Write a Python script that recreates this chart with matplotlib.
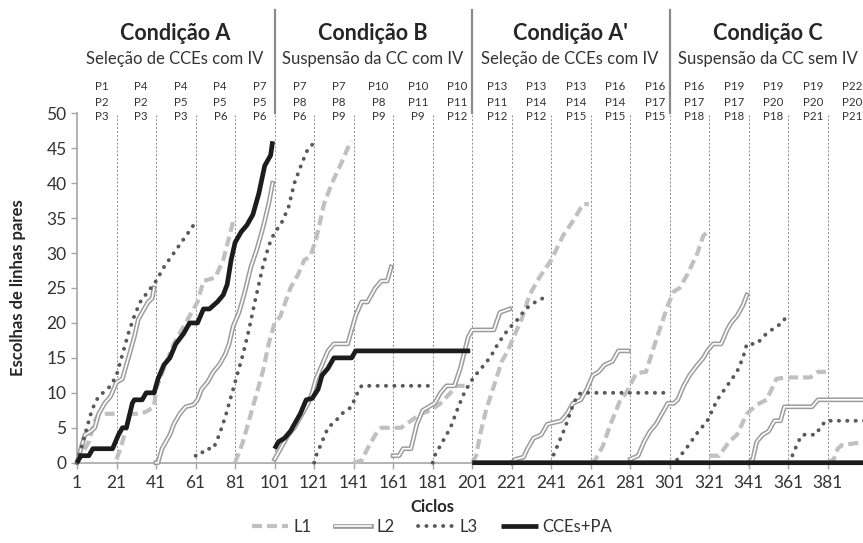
import numpy as np
import matplotlib
matplotlib.use("Agg")
import matplotlib.pyplot as plt
import matplotlib.transforms as mtransforms
from matplotlib.lines import Line2D

plt.rcParams['font.family'] = ['Lato', 'DejaVu Sans']

# === DATA (cycle, cumulative choices) ===
# L1 = top participant row
l1_p1 = [(1, 0), (3, 1), (5, 2), (7, 3), (8, 4), (9, 5), (10, 6), (12, 7), (20, 7)]
l1_p4 = [(21, 0.5), (23, 2), (26, 5), (28, 7), (33, 7), (36, 7.3), (40, 8), (41, 10.5),
         (45, 13.5), (50, 17), (55, 19.5), (60, 22), (62, 23), (65, 26), (71, 26.5),
         (75, 29), (80, 34.5)]
l1_p7 = [(81, 0), (85, 3), (90, 8), (95, 13), (98, 17), (101, 20), (104, 21), (109, 25),
         (113, 27), (116, 29), (119, 29.5), (122, 32), (126, 37), (130, 40), (135, 43),
         (138, 45), (140, 46)]
l1_p10 = [(141, 0), (145, 0.3), (148, 2), (152, 4), (155, 5), (165, 5), (170, 6),
          (175, 7), (180, 7.5), (185, 8.5), (190, 10), (193, 11), (200, 11)]
l1_p13 = [(201, 0), (203, 1), (205, 4), (208, 7.5), (212, 11), (216, 14.5), (219, 16),
          (222, 18), (226, 20.5), (230, 24), (235, 26.5), (241, 29), (247, 32.5),
          (253, 35), (257, 37), (260, 37)]
l1_p16 = [(261, 0), (263, 0.3), (267, 2.3), (271, 5.5), (276, 9), (279, 10), (284, 12.8),
          (289, 13), (294, 17.5), (300, 22.5), (303, 24.5), (306, 25), (310, 27),
          (315, 30), (318, 32.5), (320, 33)]
l1_p19 = [(321, 1), (326, 1), (331, 3), (335, 4), (340, 7), (345, 8.3), (350, 9),
          (355, 12), (360, 12.2), (372, 12.2), (376, 13), (380, 13)]
l1_p22 = [(381, 0), (384, 0.5), (386, 2), (388, 2.5), (400, 3)]

# L2 = middle participant row
l2_p2 = [(1, 0), (3, 2), (5, 4), (8, 4.5), (10, 5), (12, 7), (15, 8.5), (18, 9.5),
         (21, 11.5), (24, 12), (26, 14), (28, 16), (30, 18), (32, 20.5), (35, 22),
         (37, 23), (39, 23.5), (40, 25)]
l2_p5 = [(41, 0), (42, 0), (44, 2), (46, 3), (48, 4), (50, 5.5), (53, 7), (56, 8),
         (60, 8.3), (62, 9), (64, 10.5), (67, 11.5), (70, 13), (73, 14), (76, 15.5),
         (78, 17), (80, 19.5), (83, 21.5), (86, 24.5), (89, 28), (92, 30.5), (95, 33.5),
         (98, 37), (100, 40)]
l2_p8 = [(101, 0.5), (102, 1), (104, 2), (106, 3), (108, 4), (111, 5), (113, 6),
         (116, 7.5), (118, 8.5), (120, 10), (122, 12), (125, 14), (128, 16), (131, 17),
         (138, 17), (140, 19), (142, 21), (145, 23), (148, 23), (152, 25), (155, 26),
         (158, 26), (160, 28)]
l2_p11 = [(161, 1), (164, 1), (166, 2), (170, 2), (173, 5.5), (176, 7.5), (179, 8),
          (182, 8.5), (185, 10), (188, 11), (192, 11), (195, 13.5), (199, 18), (201, 19),
          (212, 19), (215, 21.5), (220, 22)]
l2_p14 = [(221, 0), (223, 0.5), (227, 0.8), (229, 2), (232, 3.5), (236, 4), (239, 5.5),
          (246, 6), (249, 7), (252, 8.5), (256, 9), (259, 10.5), (262, 12.5), (265, 13),
          (268, 14), (272, 14.5), (275, 16), (280, 16)]
l2_p17 = [(281, 0.5), (285, 1), (288, 3), (291, 4.5), (294, 5.5), (298, 7.5), (300, 8.5),
          (303, 8.5), (305, 9), (308, 11), (311, 12.5), (315, 14), (318, 15), (320, 16),
          (323, 17), (327, 17), (330, 19), (332, 20), (335, 21), (338, 22.5), (340, 24)]
l2_p20 = [(341, 0), (343, 0.5), (345, 3), (348, 4), (351, 4.5), (354, 6), (357, 6),
          (359, 8), (373, 8), (376, 9), (400, 9)]

# L3 = bottom participant row
l3_p3 = [(1, 0), (2, 1), (4, 3), (6, 5), (8, 7), (10, 8.5), (12, 9.5), (15, 10.2),
         (18, 11), (21, 12.5), (24, 15.5), (27, 18.5), (30, 21), (33, 23), (37, 24.5),
         (41, 26), (45, 28), (50, 30), (55, 32), (60, 34)]
l3_p6 = [(61, 1), (63, 1), (66, 2), (70, 2), (73, 4), (76, 6.5), (79, 9.5), (82, 12.5),
         (85, 15.5), (88, 19), (91, 23), (95, 28), (98, 31), (101, 33), (104, 34),
         (108, 36.5), (111, 40), (115, 43), (118, 45), (120, 45.5)]
l3_p9 = [(121, 0), (122, 1), (125, 3), (128, 5), (132, 6), (135, 7), (140, 8),
         (142, 9.5), (145, 11), (180, 11)]
l3_p12 = [(181, 0), (182, 1), (185, 2.5), (190, 5), (194, 8), (197, 10), (200, 11.5),
          (204, 13), (208, 14.3), (211, 15.5), (214, 17), (219, 19), (224, 20.5),
          (228, 22), (233, 23), (240, 24)]
l3_p15 = [(241, 0), (242, 1), (245, 3), (248, 5), (251, 7.5), (254, 9.5), (256, 10),
          (300, 10)]
l3_p18 = [(301, 0), (303, 0), (305, 0.5), (310, 2.3), (315, 4.3), (320, 6), (325, 9),
          (330, 11), (335, 13), (338, 15), (340, 17), (345, 17), (350, 18.5), (355, 19.5),
          (358, 20), (360, 21)]
l3_p21 = [(361, 0), (363, 1), (366, 3), (368, 4), (375, 4), (377, 5), (380, 6), (400, 6)]

# CCEs+PA
cce_a = [(1, 0), (3, 1), (7, 1), (9, 2), (19, 2), (22, 4), (24, 5), (26, 5), (29, 8.5),
         (30, 9), (34, 9), (36, 10), (40, 10), (42, 12), (45, 14), (48, 15), (51, 17),
         (55, 18.5), (58, 20), (62, 20), (65, 22), (68, 22), (72, 23), (75, 24),
         (77, 25.5), (79, 29), (81, 31.5), (84, 33), (87, 34), (90, 35.5), (93, 38.5),
         (96, 42.5), (99, 44), (100, 46)]
cce_b = [(101, 2), (103, 3), (106, 3.5), (109, 4.5), (111, 5.5), (114, 7), (117, 9),
         (120, 9.2), (123, 10.5), (125, 12.5), (128, 13.5), (131, 15), (140, 15),
         (142, 16), (200, 16)]
cce_c = [(201, 0), (400, 0)]

# header texts
conditions = ["Condição A", "Condição B", "Condição A'", "Condição C"]
subtitles = ["Seleção de CCEs com IV", "Suspensão da CC com IV",
             "Seleção de CCEs com IV", "Suspensão da CC sem IV"]
top_row = ['P1', 'P4', 'P4', 'P4', 'P7', 'P7', 'P7', 'P10', 'P10', 'P10',
           'P13', 'P13', 'P13', 'P16', 'P16', 'P16', 'P19', 'P19', 'P19', 'P22']
mid_row = ['P2', 'P2', 'P5', 'P5', 'P5', 'P8', 'P8', 'P8', 'P11', 'P11',
           'P11', 'P14', 'P14', 'P14', 'P17', 'P17', 'P17', 'P20', 'P20', 'P20']
bot_row = ['P3', 'P3', 'P3', 'P6', 'P6', 'P6', 'P9', 'P9', 'P9', 'P12',
           'P12', 'P12', 'P15', 'P15', 'P15', 'P18', 'P18', 'P18', 'P21', 'P21']
x_ticks = list(range(1, 400, 20))


def join(parts):
    # chain pieces into one series, NaN between participants
    xs, ys = [], []
    for p in parts:
        xs += [c for c, v in p] + [np.nan]
        ys += [v for c, v in p] + [np.nan]
    return xs, ys


# === STYLES ===
L1_KW = dict(color='#c0c0c0', lw=3.0, linestyle=(0, (2.4, 1.2)))
L2_OUT = dict(color='#9c9c9c', lw=3.4)
L2_IN = dict(color='white', lw=1.2)
L3_KW = dict(color='#595959', lw=2.8, linestyle=(0, (0.05, 2.1)), dash_capstyle='round')
CCE_KW = dict(color='#1c1c1c', lw=3.4, solid_capstyle='butt')

fig = plt.figure(figsize=(8.63, 5.43), dpi=100)
W, H = 863, 543
x0, x1, y0, y1 = 77, 865.4, 462.7, 113.3
ax = fig.add_axes([x0 / W, 1 - y0 / H, (x1 - x0) / W, (y0 - y1) / H])

ax.set_xlim(1, 400)
ax.set_ylim(0, 50)

# phase dividers
ax.vlines(x_ticks[1:], 0, 50, colors='#8a8a8a', lw=0.7, linestyles=(0, (2, 2)), zorder=1)

x, y = join([l1_p1, l1_p4, l1_p7, l1_p10, l1_p13, l1_p16, l1_p19, l1_p22])
ax.plot(x, y, clip_on=False, zorder=3, **L1_KW)
x, y = join([l2_p2, l2_p5, l2_p8, l2_p11, l2_p14, l2_p17, l2_p20])
ax.plot(x, y, clip_on=False, zorder=4, **L2_OUT)
ax.plot(x, y, clip_on=False, zorder=4, **L2_IN)
x, y = join([l3_p3, l3_p6, l3_p9, l3_p12, l3_p15, l3_p18, l3_p21])
ax.plot(x, y, clip_on=False, zorder=5, **L3_KW)
x, y = join([cce_a, cce_b, cce_c])
ax.plot(x, y, clip_on=False, zorder=6, **CCE_KW)

# axes cosmetics
for s in ['top', 'right']:
    ax.spines[s].set_visible(False)
for s in ['left', 'bottom']:
    ax.spines[s].set_color('#a6a6a6')
    ax.spines[s].set_linewidth(1.2)
ax.set_xticks(x_ticks)
ax.set_xticklabels([str(t) for t in x_ticks])
ax.set_yticks(range(0, 51, 5))
ax.tick_params(axis='both', colors='#a6a6a6', labelcolor='#333333',
               labelsize=12.5, length=4, width=1)
ax.tick_params(axis='x', pad=5)

# headers above the plot
trans = mtransforms.blended_transform_factory(ax.transData, ax.transAxes)


def ay(py):
    return (y0 - py) / (y0 - y1)


for i, (c, s) in enumerate(zip(conditions, subtitles)):
    cx = 50.5 + 100 * i
    ax.text(cx, ay(33), c, transform=trans, ha='center', va='center',
            fontsize=15.5, fontweight='bold', color='#262626')
    ax.text(cx, ay(59), s, transform=trans, ha='center', va='center',
            fontsize=12, color='#333333')
for b in [101, 201, 301]:
    ax.plot([b, b], [1.0, ay(10)], transform=trans, color='#8a8a8a', lw=1.6,
            clip_on=False)
for i in range(20):
    cx = 13.5 + 20 * i
    for row, py in zip([top_row, mid_row, bot_row], [87, 102, 117]):
        ax.text(cx, ay(py), row[i], transform=trans, ha='center', va='center',
                fontsize=8.3, color='#333333')

fig.text(432 / W, 1 - 507 / H, "Ciclos", ha='center', va='center',
         fontsize=12, fontweight='bold', color='#262626')
fig.text(18 / W, 1 - 288 / H, "Escolhas de linhas pares", ha='center', va='center',
         rotation=90, fontsize=12, fontweight='bold', color='#262626')

# legend
h1 = Line2D([], [], **L1_KW)
h2 = (Line2D([], [], **L2_OUT), Line2D([], [], **L2_IN))
h3 = Line2D([], [], **L3_KW)
h4 = Line2D([], [], **CCE_KW)
fig.legend([h1, h2, h3, h4], ['L1', 'L2', 'L3', 'CCEs+PA'], loc='center',
           bbox_to_anchor=(432 / W, 1 - 527 / H), ncol=4, frameon=False,
           fontsize=12, handlelength=2.2, handletextpad=0.3, columnspacing=1.4,
           labelcolor='#333333')

fig.savefig("out.png", dpi=100)
